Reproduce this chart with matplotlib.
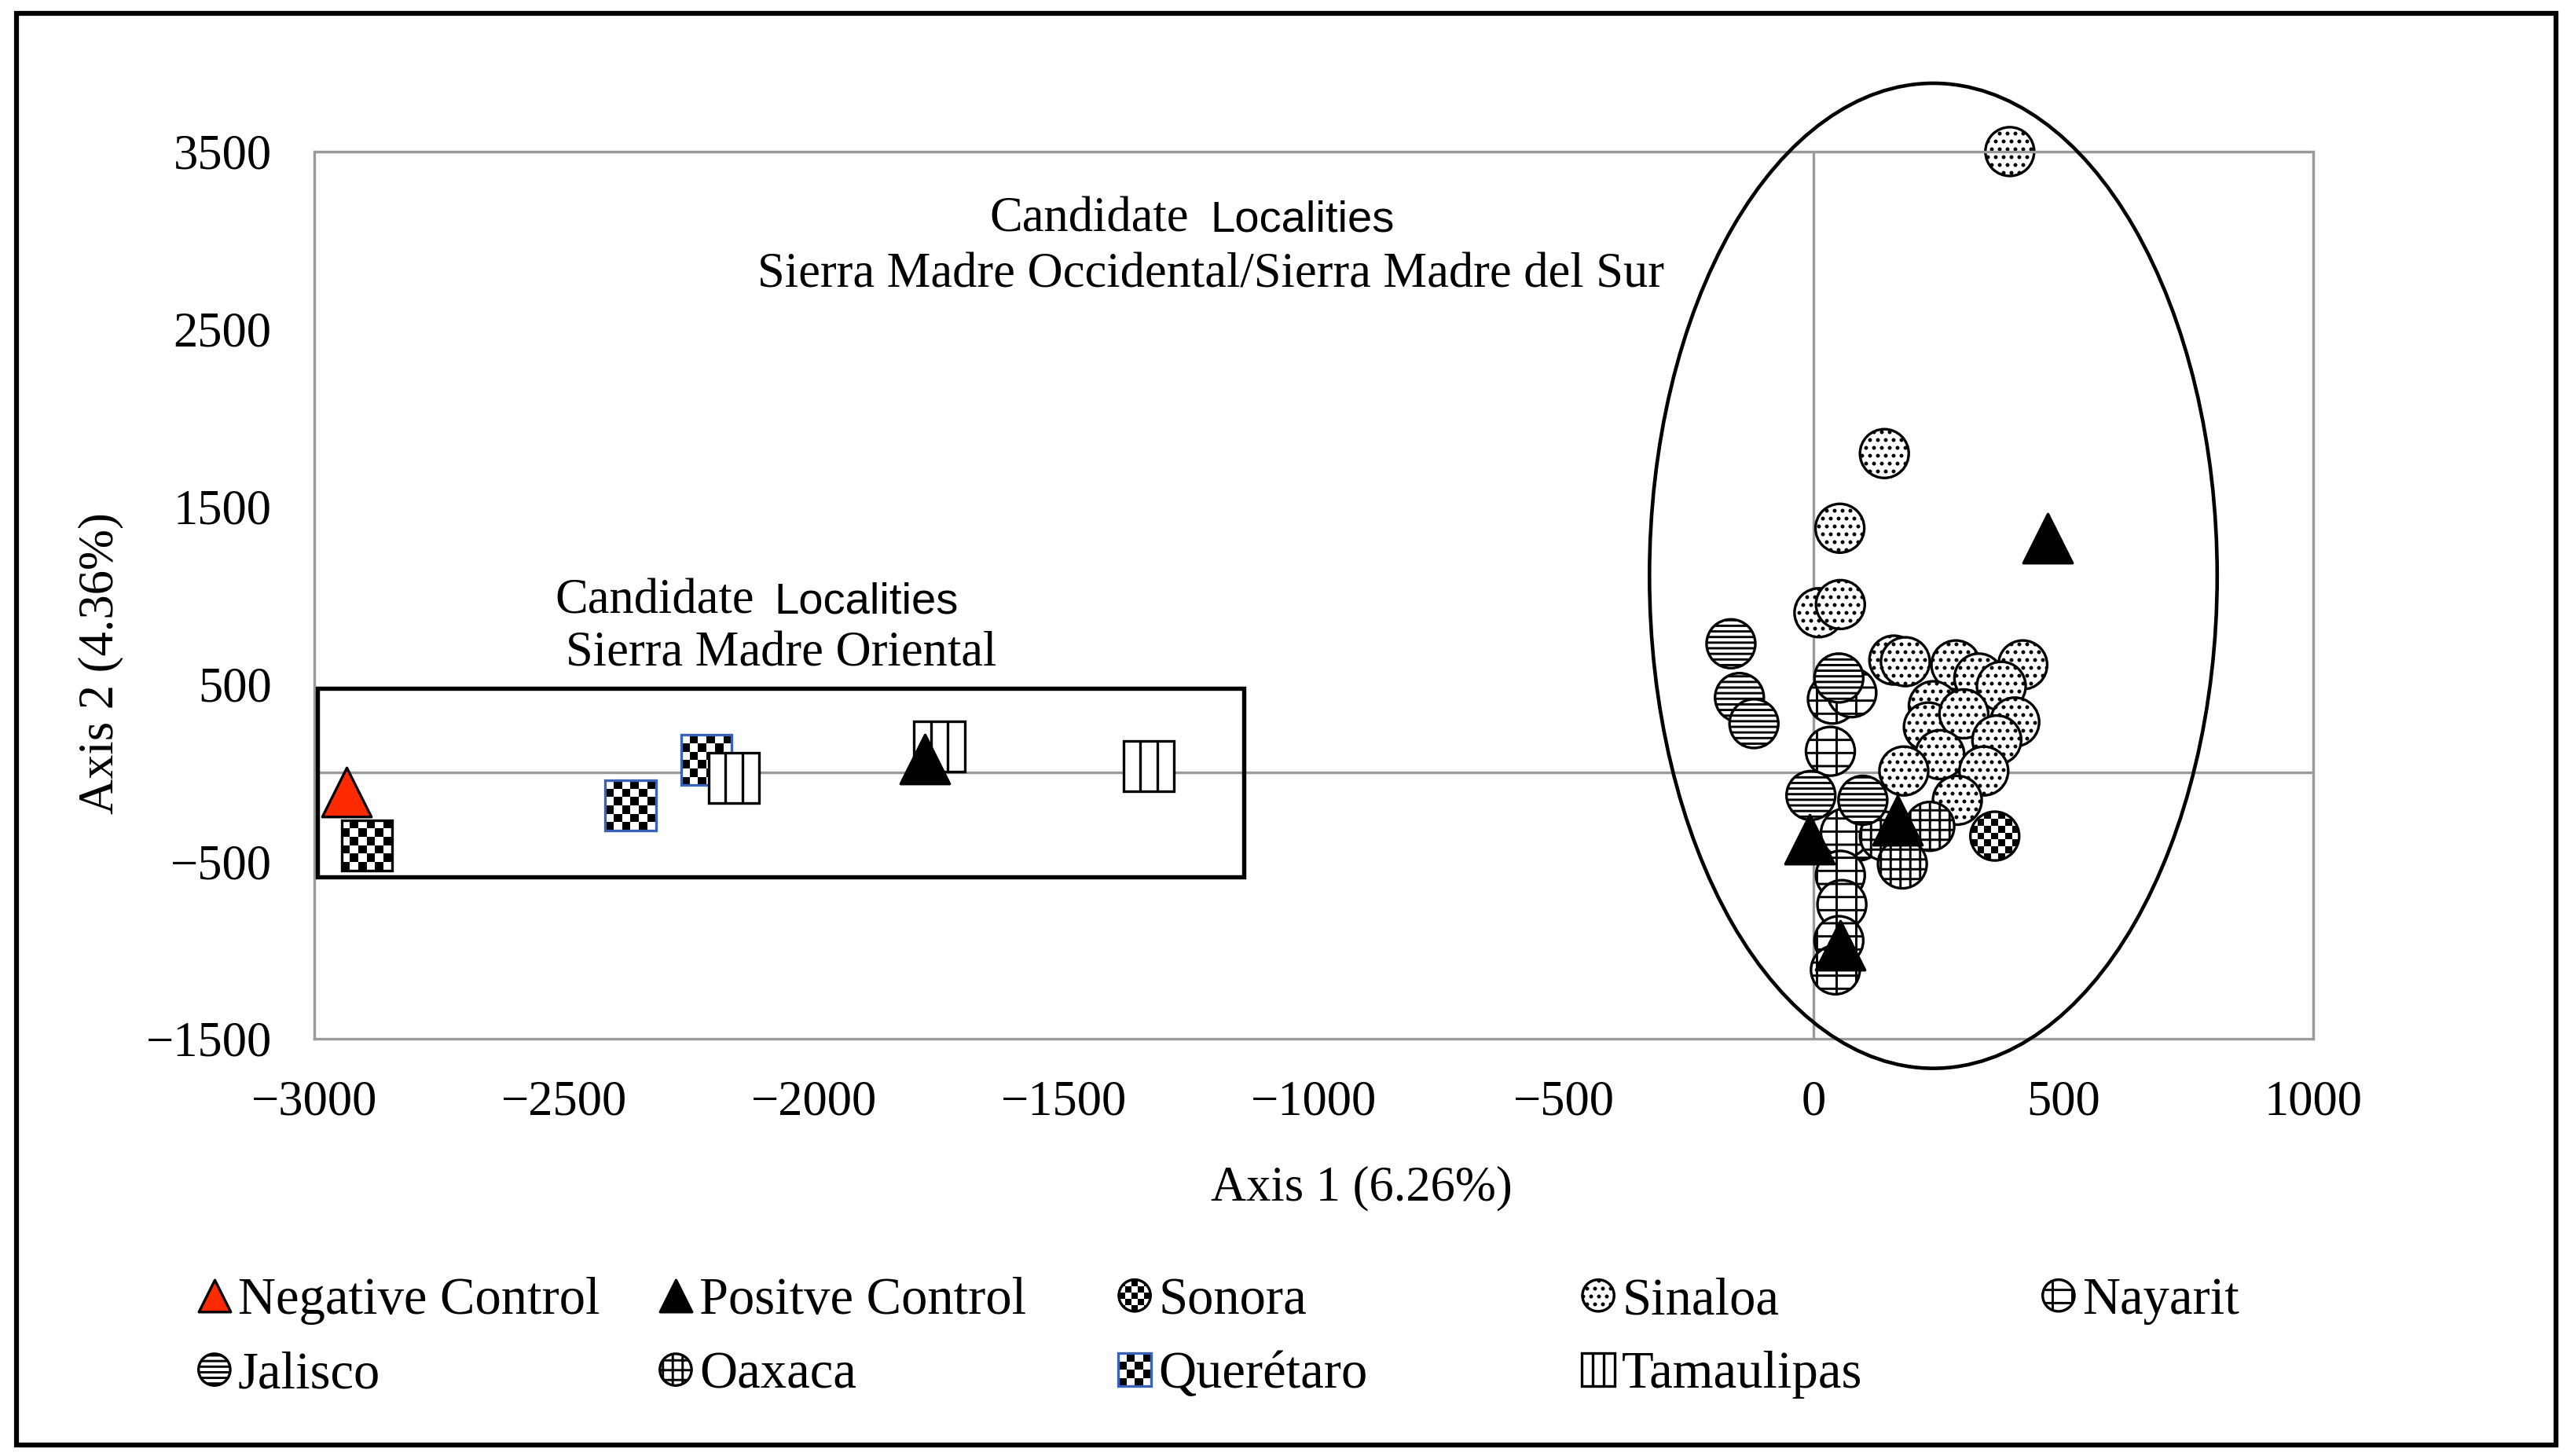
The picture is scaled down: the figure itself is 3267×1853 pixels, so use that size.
import matplotlib
matplotlib.use('Agg')
import matplotlib.pyplot as plt
from matplotlib.patches import Circle, Rectangle, Ellipse
from matplotlib.collections import PatchCollection, LineCollection
from matplotlib.transforms import ScaledTranslation
from matplotlib.legend_handler import HandlerBase

plt.rcParams['font.family'] = 'Liberation Serif'
plt.rcParams['font.size'] = 15
plt.rcParams['hatch.linewidth'] = 0.7
plt.rcParams['hatch.color'] = 'black'

# ---- data ----
neg_x = [-2935]
neg_y = [-110]
pos_x = [-1778, -8, 168, 54, 469]
pos_y = [75, -377, -270, -974, 1322]
sonora_x = [363]
sonora_y = [-358]
sinaloa_x = [393, 142, 53, 11, 54, 161, 184, 285, 331, 419, 376, 240, 230, 301, 403, 367, 253, 341, 181, 288]
sinaloa_y = [3500, 1798, 1377, 901, 947, 634, 625, 607, 533, 607, 487, 377, 257, 331, 285, 184, 101, 9, 9, -156]
nayarit_x = [38, 77, 34, 90, 64, 54, 57, 51, 44]
nayarit_y = [414, 450, 120, -358, -340, -579, -744, -947, -1112]
jalisco_x = [-165, -148, -119, 51, -5, 99]
jalisco_y = [726, 423, 276, 533, -129, -156]
oaxaca_x = [142, 233, 178]
oaxaca_y = [-358, -303, -515]
queretaro_x = [-2895, -2367, -2215]
queretaro_y = [-410, -185, 70]
queretaro_edge = ['black', '#3a62b8', '#3a62b8']
tamaulipas_x = [-2160, -1749, -1330]
tamaulipas_y = [-30, 148, 37]

xticks = [-3000, -2500, -2000, -1500, -1000, -500, 0, 500, 1000]
yticks = [-1500, -500, 500, 1500, 2500, 3500]

DPI = 300
CIRC = 14.9   # marker diameter, points
SQ = 15.4     # square side, points
TRI = 15.0
LEG_SCALE = 0.65


def make_marker(cx, cy, size, shape, kind, edge, tr, ncell):
    h = size / 2
    if shape == 'o':
        base = Circle((cx, cy), h, fc='white', ec='none', transform=tr)
        rim = Circle((cx, cy), h, fill=False, ec=edge, lw=0.8, transform=tr)
    else:
        base = Rectangle((cx - h, cy - h), size, size, fc='white', ec='none', transform=tr)
        rim = Rectangle((cx - h, cy - h), size, size, fill=False, ec=edge, lw=0.8, transform=tr)
    step = size / ncell
    if kind == 'checker':
        cells = []
        for i in range(ncell):
            for j in range(ncell):
                if (i + j) % 2 == 0:
                    cells.append(Rectangle((cx - h + i * step, cy - h + j * step), step, step))
        inner = PatchCollection(cells, facecolor='black', edgecolor='none', transform=tr)
    else:
        segs = [[(cx - h + i * step, cy - h), (cx - h + i * step, cy + h)] for i in range(1, ncell)]
        inner = LineCollection(segs, colors='black', linewidths=0.8, transform=tr)
    inner.set_clip_path(base)
    return base, inner, rim


def add_pattern_series(ax, fig, xs, ys, shape, kind, edges, ncell, z):
    handle = None
    for x, y, ec in zip(xs, ys, edges):
        tr = fig.dpi_scale_trans + ScaledTranslation(x, y, ax.transData)
        size = (CIRC if shape == 'o' else SQ) / 72.0
        base, inner, rim = make_marker(0, 0, size, shape, kind, ec, tr, ncell)
        base.set_zorder(z)
        inner.set_zorder(z)
        rim.set_zorder(z)
        ax.add_patch(base)
        ax.add_collection(inner, autolim=False)
        ax.add_patch(rim)
        if handle is None:
            handle = base
    return handle


class PatternHandler(HandlerBase):
    def __init__(self, shape, kind, edge, ncell):
        super().__init__()
        self.shape, self.kind, self.edge, self.ncell = shape, kind, edge, ncell

    def create_artists(self, legend, orig_handle, xdescent, ydescent,
                       width, height, fontsize, trans):
        size = (CIRC if self.shape == 'o' else SQ) * LEG_SCALE
        cx = width / 2 - xdescent
        cy = height / 2 - ydescent
        return list(make_marker(cx, cy, size, self.shape, self.kind, self.edge, trans, self.ncell))


fig = plt.figure(figsize=(3267 / DPI, 1853 / DPI), dpi=DPI)
ax = fig.add_axes([0.1224, 0.2866, 0.7787, 0.6093])

ax.axhline(0, color='#9a9a9a', lw=0.8, zorder=0.5)
ax.axvline(0, color='#9a9a9a', lw=0.8, zorder=0.5)

h_son = add_pattern_series(ax, fig, sonora_x, sonora_y, 'o', 'checker', ['black'], 7, 2)
h_sin = ax.scatter(sinaloa_x, sinaloa_y, s=CIRC ** 2, marker='o', fc='white', ec='black',
                   lw=0.8, hatch='.....', zorder=2, clip_on=False)
h_nay = ax.scatter(nayarit_x, nayarit_y, s=CIRC ** 2, marker='o', fc='white', ec='black',
                   lw=0.8, hatch='---||', zorder=2.1)
h_oax = ax.scatter(oaxaca_x, oaxaca_y, s=CIRC ** 2, marker='o', fc='white', ec='black',
                   lw=0.8, hatch='++++', zorder=2.2)
h_jal = ax.scatter(jalisco_x, jalisco_y, s=CIRC ** 2, marker='o', fc='white', ec='black',
                   lw=0.8, hatch='-------', zorder=2.3)
h_que = add_pattern_series(ax, fig, queretaro_x, queretaro_y, 's', 'checker', queretaro_edge, 6, 3)
h_tam = add_pattern_series(ax, fig, tamaulipas_x, tamaulipas_y, 's', 'vlines', ['black'] * 3, 3, 4)
h_pos = ax.scatter(pos_x, pos_y, s=TRI ** 2, marker='^', fc='black', ec='black', lw=0.8, zorder=5)
h_neg = ax.scatter(neg_x, neg_y, s=TRI ** 2, marker='^', fc='#ff2a00', ec='black', lw=0.8,
                   zorder=5, clip_on=False)

# group outlines
ax.add_patch(Ellipse((240, 1109), 1136, 5552, fill=False, ec='black', lw=1.1,
                     clip_on=False, zorder=6))
ax.add_patch(Rectangle((-2994, -589), 1855, 1065, fill=False, ec='black', lw=1.3,
                       clip_on=False, zorder=6))

ax.text(-1250, 3048, 'Candidate', ha='right', va='baseline', fontsize=15)
ax.text(-1207, 3048, 'Localities', ha='left', va='baseline', fontsize=13.5,
        family='Liberation Sans')
ax.text(-1206, 2737, 'Sierra Madre Occidental/Sierra Madre del Sur', ha='center',
        va='baseline', fontsize=15)
ax.text(-2119, 899, 'Candidate', ha='right', va='baseline', fontsize=15)
ax.text(-2080, 899, 'Localities', ha='left', va='baseline', fontsize=13.5,
        family='Liberation Sans')
ax.text(-2066, 603, 'Sierra Madre Oriental', ha='center', va='baseline', fontsize=15)

ax.set_xlim(-3000, 1000)
ax.set_ylim(-1500, 3500)
ax.set_xticks(xticks)
ax.set_yticks(yticks)
ax.tick_params(axis='both', length=0, labelsize=15)
ax.tick_params(axis='x', pad=12.5)
ax.tick_params(axis='y', pad=13)
for sp in ax.spines.values():
    sp.set_color('#9a9a9a')
    sp.set_linewidth(0.8)

ax.set_xlabel('Axis 1 (6.26%)', fontsize=15)
ax.set_ylabel('Axis 2 (4.36%)', fontsize=15)
ax.xaxis.set_label_coords(0.524, -0.169)
ax.xaxis.label.set_va('center')
ax.yaxis.set_label_coords(-0.1065, 0.423)
ax.yaxis.label.set_va('center')

# legend, one column at a time so the columns are evenly spaced
hmap = {h_son: PatternHandler('o', 'checker', 'black', 5),
        h_que: PatternHandler('s', 'checker', '#3a62b8', 4),
        h_tam: PatternHandler('s', 'vlines', 'black', 3)}
columns = [
    ([h_neg, h_jal], ['Negative Control', 'Jalisco']),
    ([h_pos, h_oax], ['Positve Control', 'Oaxaca']),
    ([h_son, h_que], ['Sonora', 'Querétaro']),
    ([h_sin, h_tam], ['Sinaloa', 'Tamaulipas']),
    ([h_nay], ['Nayarit']),
]
col_x = [0.0774, 0.2571, 0.4359, 0.6165, 0.7958]
for (hs, ls), cx in zip(columns, col_x):
    fig.legend(hs, ls, loc='upper left', bbox_to_anchor=(cx, 0.123), frameon=False,
               borderpad=0, borderaxespad=0, handlelength=0.6, handletextpad=0.15,
               labelspacing=0.5, fontsize=16, markerscale=LEG_SCALE, scatterpoints=1,
               scatteryoffsets=[0.5], handler_map=hmap)

# outer frame around the whole figure
fig.add_artist(Rectangle((0.0064, 0.0076), 0.9893, 0.9833, transform=fig.transFigure,
                         fill=False, ec='black', lw=1.5))

fig.savefig('out.png', dpi=DPI)
